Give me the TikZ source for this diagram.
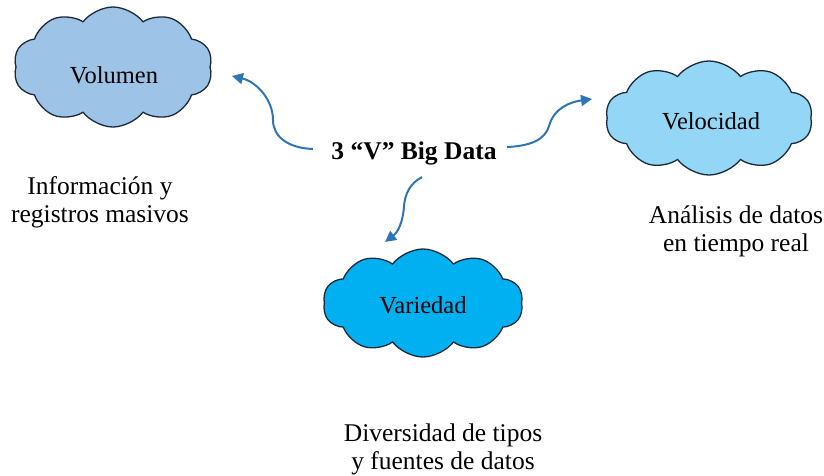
\documentclass[tikz,border=0pt]{standalone}
\usepackage{fontspec}
\setmainfont{Liberation Serif}
\usetikzlibrary{shapes.symbols,arrows.meta}
\definecolor{volfill}{HTML}{9DC3E6}
\definecolor{velfill}{HTML}{93D6F6}
\definecolor{varfill}{HTML}{00B0F0}
\definecolor{cloudline}{HTML}{1B2A3A}
\definecolor{arrowblue}{HTML}{2E75B6}
\tikzset{
  cloudbox/.style={cloud, cloud puffs=10, cloud puff arc=105, draw=cloudline, line width=1.3pt, inner sep=0pt},
  cloudtext/.style={font=\fontsize{24.5}{28}\selectfont, inner sep=0pt},
  labeltext/.style={font=\fontsize{25.5}{28}\selectfont, align=center, inner sep=0pt},
  conn/.style={draw=arrowblue, line width=2pt, -{Triangle[length=11pt,width=11pt]}},
}
\begin{document}
\begin{tikzpicture}[x=1pt,y=-1pt]
\path[use as bounding box] (0,0) rectangle (824,475);
% clouds
\node[cloudbox, fill=volfill, minimum width=199pt, minimum height=120pt] (cvol) at (113,67) {};
\node[cloudbox, fill=velfill, minimum width=207pt, minimum height=114pt] (cvel) at (709,118) {};
\node[cloudbox, fill=varfill, minimum width=200pt, minimum height=108pt] (cvar) at (423,303) {};
\node[cloudtext] (tvol) at (114,75) {Volumen};
\node[cloudtext] (tvel) at (711,121) {Velocidad};
\node[cloudtext] (tvar) at (423,305) {Variedad};
% center
\node[font=\fontsize{25.5}{29}\selectfont\bfseries, inner sep=0pt] (center) at (414,153) {3 “V” Big Data};
% labels
\node[labeltext] (lvol) at (100,202) {Información y\\registros masivos};
\node[labeltext] (lvel) at (736,231) {Análisis de datos\\en tiempo real};
\node[labeltext] (lvar) at (443,449) {Diversidad de tipos\\y fuentes de datos};
% arrow end points
\coordinate (s1) at (313,149);
\coordinate (e1) at (232,76);
\coordinate (s2) at (507,147);
\coordinate (e2) at (592,99);
\coordinate (s3) at (422,177);
\coordinate (e3) at (385,242);
\draw[conn] (s1) .. controls (287,148) and (273,136) .. (273,120) .. controls (273,100) and (257,82) .. (e1);
\draw[conn] (s2) .. controls (530,146) and (545,140) .. (549,126) .. controls (554,108) and (570,102) .. (e2);
\draw[conn] (s3) .. controls (409,184) and (405,195) .. (404,206) .. controls (403,222) and (398,232) .. (e3);
\end{tikzpicture}
\end{document}
